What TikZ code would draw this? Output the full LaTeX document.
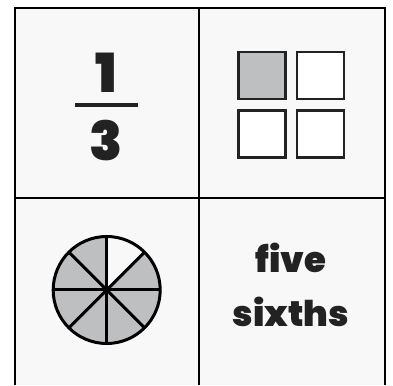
\documentclass[tikz,border=0pt]{standalone}
\usepackage{fontspec}
\setmainfont{Poppins}[UprightFont={* Black},BoldFont={* Black}]
\usepackage{tikz}
\usetikzlibrary{positioning}
\definecolor{cellbg}{RGB}{248,248,248}
\definecolor{inkgray}{RGB}{34,34,34}
\definecolor{partgray}{RGB}{190,191,193}

\tikzset{
    gridline/.style={draw=black, line width=2pt},
    bigword/.style={text=inkgray, font=\fontsize{35.5}{36}\selectfont, inner sep=0pt, anchor=base},
    numeral/.style={text=inkgray, font=\fontsize{54}{54}\selectfont, inner sep=0pt},
    part/.style={draw=inkgray, line width=2.5pt, minimum size=47pt, inner sep=0pt, outer sep=0pt}
}

\begin{document}
\begin{tikzpicture}[x=1pt,y=1pt]
    \useasboundingbox (0,0) rectangle (393,385);
    % cell background and grid
    \fill[cellbg] (15,0) rectangle (385,377);
    \draw[gridline] (15,0) -- (15,377) -- (385,377) -- (385,0);
    \draw[gridline] (199,377) -- (199,0);
    \draw[gridline] (15,187) -- (385,187);

    % one third
    \node[numeral] (numer) at (106.5,312) {1};
    \node[numeral] (denom) at (106.5,244) {3};
    \draw[inkgray, line width=4pt] (75,280) -- (138,280);

    % four squares, one shaded
    \node[part, fill=partgray] (sqa) at (262,309.5) {};
    \node[part, fill=white, right=11.5pt of sqa] (sqb) {};
    \node[part, fill=white, below=11.5pt of sqa] (sqc) {};
    \node[part, fill=white, right=11.5pt of sqc] (sqd) {};

    % circle in eighths
    \coordinate (mid) at (106.7,95);
    \fill[partgray] (mid) -- ++(90:53.5) arc[start angle=90, end angle=405, radius=53.5] -- cycle;
    \node[circle, draw=black, line width=3pt, minimum size=107pt, inner sep=0pt, outer sep=0pt] (pie) at (mid) {};
    \foreach \a/\b in {0/180,45/225,90/270,135/315}
        \draw[black, line width=3pt] (pie.\a) -- (pie.\b);

    % word form
    \node[bigword] (wfive) at (291,112) {five};
    \node[bigword] (wsix) at (291,58) {sixths};
\end{tikzpicture}
\end{document}
